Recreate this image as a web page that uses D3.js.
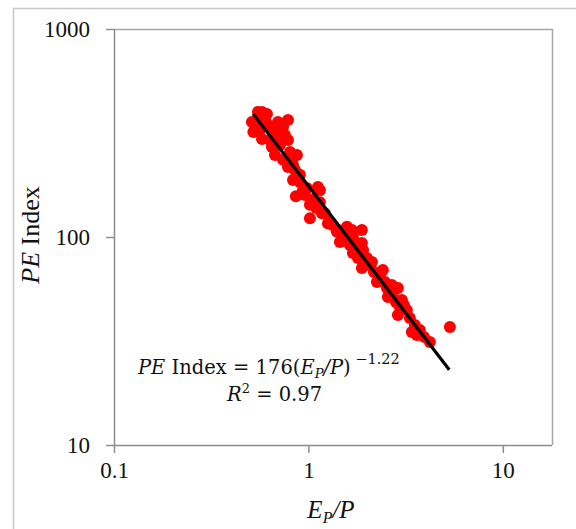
<!DOCTYPE html>
<html><head><meta charset="utf-8">
<script src="https://cdn.jsdelivr.net/npm/d3@7"></script>
<style>body{margin:0;background:#fff}svg{display:block}</style>
</head><body>
<svg id="c" width="576" height="529"></svg>
<script>
// Data (E_P/P, PE Index)
const epRatio = [0.512,0.550,0.577,0.612,0.521,0.577,0.531,0.563,0.697,0.785,0.740,0.657,0.689,0.620,0.634,0.649,0.714,0.673,0.804,0.873,
  0.740,0.785,0.852,0.833,0.904,0.982,1.119,1.146,1.042,1.146,1.215,1.290,1.578,1.674,1.884,1.694,1.018,1.173,1.260,1.402,
  1.452,1.514,1.884,1.694,2.000,1.884,2.415,2.251,2.533,2.885,2.563,3.025,2.954,3.208,2.885,3.528,3.404,3.612,4.214,5.34,
  0.550,0.597,0.757,0.823,0.904,0.937,0.862,0.959,1.018,1.099,1.337,1.419,1.541,1.634,1.765,1.797,2.072,2.173,2.332,2.474,
  2.687,2.719,2.818,3.098,3.325,3.743,3.93,2.122,1.91,0.714,0.785,0.833];
const peIndex = [357,399,399,390,320,296,346,327,357,365,338,327,303,346,293,271,277,248,256,248,
  235,217,210,188,184,172,174,168,151,147,130,118,112,108,108,100,123,130,116,106,
  94.6,96.7,93.6,83.8,79.3,71.0,69.4,60.8,56.9,56.9,51.5,49.8,46.1,44.6,42.2,37.8,34.9,33.8,31.3,36.9,
  373,365,309,235,199,168,157,159,143,138,114,108,102,91.5,88.5,79.3,73.4,67.9,65.7,60.8,
  58.8,53.8,48.7,47.1,40.8,35.7,33.1,75.9,86.6,320,293,222];
const xTicks = [0.1, 1, 10];
const yTicks = [10, 100, 1000];
const fitCoef = 176, fitExp = -1.22;
const fitRange = [0.52, 5.3];
const xDomain = [0.1, 17.9];
const yDomain = [10, 1000];

const svg = d3.select("#c");
const L = 114, R = 552, T = 29, B = 445;
const x = d3.scaleLog().domain(xDomain).range([L, R]);
const y = d3.scaleLog().domain(yDomain).range([B, T]);

// outer frame
svg.append("path").attr("d", `M13.5,529 V8.5 H576`).attr("fill","none").attr("stroke","#c8c8c8").attr("stroke-width",1.5);
// plot frame top/right
svg.append("path").attr("d", `M${L},${T+0.5} H${R+0.5} V${B}`).attr("fill","none").attr("stroke","#a6a6a6").attr("stroke-width",1.5);

const font = "'Liberation Serif', 'Times New Roman', serif";
const mfont = "'DejaVu Serif', 'Liberation Serif', serif";

// axes
const xAxis = d3.axisBottom(x).tickValues(xTicks).tickSize(8).tickFormat(d => d3.format("~g")(d)).tickPadding(9);
const gx = svg.append("g").attr("transform", `translate(0,${B})`).call(xAxis);
const yAxis = d3.axisLeft(y).tickValues(yTicks).tickSize(8).tickFormat(d => String(d)).tickPadding(16);
const gy = svg.append("g").attr("transform", `translate(${L},0)`).call(yAxis);
[gx, gy].forEach(g => {
  g.select(".domain").attr("stroke", "#8c8c8c").attr("stroke-width", 1.5);
  g.selectAll(".tick line").attr("stroke", "#8c8c8c").attr("stroke-width", 1.5);
  g.selectAll(".tick text").attr("fill", "#111").style("font-family", font).style("font-size", "23px");
});
gx.select(".domain").attr("d", `M${L},0.5H${R}`);
gy.select(".domain").attr("d", `M0.5,${B}V${T}`);

// points
const pts = epRatio.map((d, i) => ({ x: d, y: peIndex[i] }));
svg.append("g").selectAll("circle").data(pts).join("circle")
  .attr("cx", d => x(d.x)).attr("cy", d => y(d.y)).attr("r", 6).attr("fill", "#ff0000");

// fit line
const fit = fitRange.map(v => ({ x: v, y: fitCoef * Math.pow(v, fitExp) }));
svg.append("path").datum(fit)
  .attr("d", d3.line().x(d => x(d.x)).y(d => y(d.y)))
  .attr("stroke", "#000").attr("stroke-width", 3.2).attr("fill", "none");

// axis titles
const xt = svg.append("text").attr("x", 331).attr("y", 518).attr("text-anchor", "middle")
  .style("font-family", font).style("font-size", "25px").attr("fill", "#111");
xt.append("tspan").style("font-style", "italic").text("E");
xt.append("tspan").style("font-style", "italic").style("font-size", "16px").attr("dy", 5).text("P");
xt.append("tspan").style("font-style", "italic").attr("dy", -5).text("/P");

const yt = svg.append("text").attr("transform", "translate(39,235) rotate(-90)").attr("text-anchor", "middle")
  .style("font-family", font).style("font-size", "26px").attr("fill", "#111");
yt.append("tspan").style("font-style", "italic").text("PE");
yt.append("tspan").text(" Index");

// annotation
const a1 = svg.append("text").attr("x", 138).attr("y", 374)
  .style("font-family", mfont).style("font-size", "19.5px").attr("fill", "#111");
a1.append("tspan").style("font-style", "italic").text("PE");
a1.append("tspan").text(" Index = 176(");
a1.append("tspan").style("font-style", "italic").text("E");
a1.append("tspan").style("font-style", "italic").style("font-size", "13px").attr("dy", 4).text("P");
a1.append("tspan").attr("dy", -4).style("font-style", "italic").text("/P");
a1.append("tspan").text(")");
a1.append("tspan").style("font-size", "14.5px").attr("dy", -10).text(" \u22121.22");

const a2 = svg.append("text").attr("x", 227).attr("y", 401)
  .style("font-family", mfont).style("font-size", "19.5px").attr("fill", "#111");
a2.append("tspan").style("font-style", "italic").text("R");
a2.append("tspan").style("font-size", "13px").attr("dy", -8).text("2");
a2.append("tspan").attr("dy", 8).text(" = 0.97");
</script>
</body></html>
